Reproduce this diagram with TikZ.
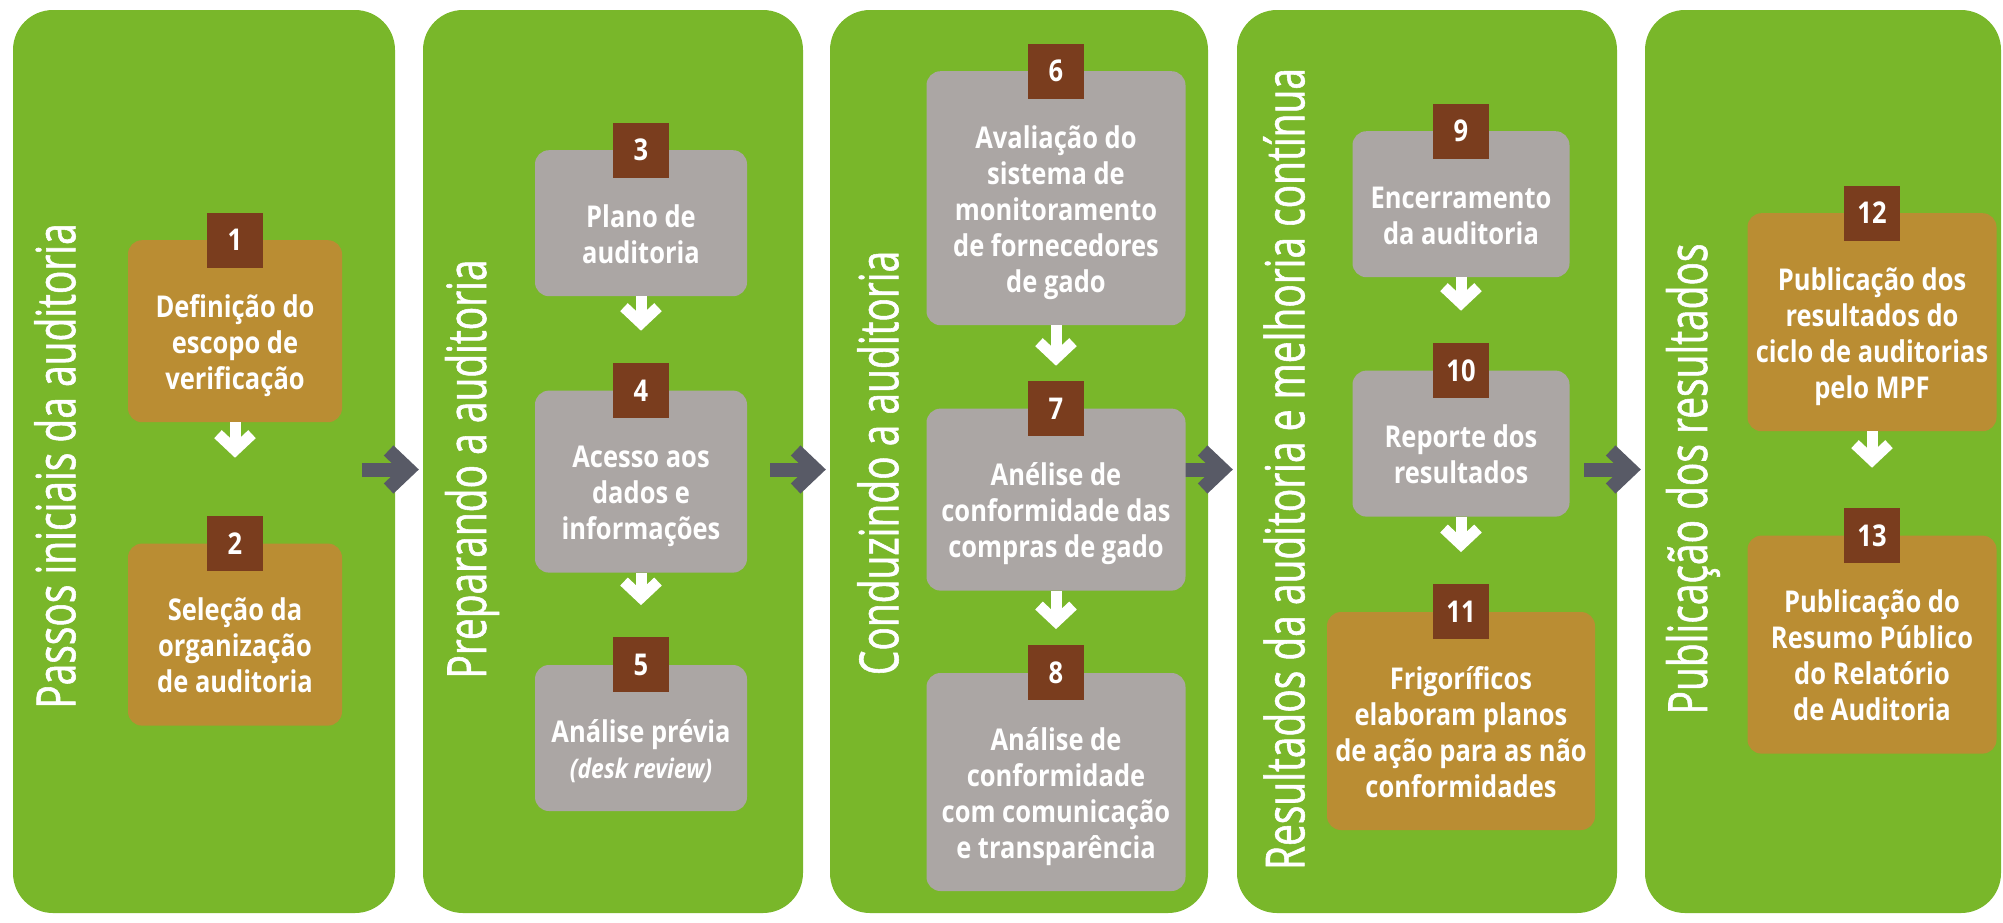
\documentclass[tikz,border=0pt]{standalone}
\usepackage{fontspec}
\setmainfont{Open Sans}[FakeStretch=0.85]
\newfontfamily\titlefont{Open Sans}[FakeStretch=0.72, FakeBold=1]
\usepackage{tikz}
\usetikzlibrary{positioning, arrows.meta}
\definecolor{panelgreen}{RGB}{121,183,42}
\definecolor{stepgold}{RGB}{186,141,51}
\definecolor{stepgray}{RGB}{171,166,164}
\definecolor{badgebrown}{RGB}{122,61,30}
\definecolor{flowgray}{RGB}{88,90,102}
\newcommand{\Lines}[1]{\rule{0pt}{77pt}#1\rule[-33pt]{0pt}{33pt}}
\newcommand{\Desk}[1]{{\fontsize{27}{32}\selectfont\itshape #1}}
\tikzset{
    panel/.style={fill=panelgreen, rounded corners=40pt, minimum height=903pt, inner sep=0pt},
    phase/.style={rotate=90, text=white, inner sep=0pt, font=\titlefont\fontsize{54}{60}\selectfont},
    stepbox/.style={rounded corners=14pt, text=white, align=center, inner sep=0pt,
        font=\bfseries\fontsize{30}{36}\selectfont},
    gray step/.style={stepbox, fill=stepgray},
    gold step/.style={stepbox, fill=stepgold},
    badge/.style={fill=badgebrown, text=white, minimum width=56pt, minimum height=55pt,
        inner sep=0pt, font=\bfseries\fontsize{30}{36}\selectfont},
    downarrow/.style={draw=white, line width=11pt, shorten <=0pt, shorten >=32pt,
        -{Straight Barb[length=16pt, width=34pt, line width=11pt]}},
    phasearrow/.style={draw=flowgray, line width=14pt,
        -{Straight Barb[length=20pt, width=38pt, line width=14pt]}},
}

\begin{document}
\begin{tikzpicture}[x=1pt, y=-1pt]
    \useasboundingbox (0,0) rectangle (2003,922);

    % phases
    \node[panel, minimum width=382pt] (p1) at (204,461.5) {};
    \node[panel, minimum width=380pt] (p2) at (613,461.5) {};
    \node[panel, minimum width=378pt] (p3) at (1019,461.5) {};
    \node[panel, minimum width=380pt] (p4) at (1427,461.5) {};
    \node[panel, minimum width=356pt] (p5) at (1823,461.5) {};

    \node[phase] (t1) at (55,466) {Passos iniciais da auditoria};
    \node[phase] (t2) at (472,469) {Preparando a auditoria};
    \node[phase] (t3) at (878,463) {Conduzindo a auditoria};
    \node[phase] (t4) at (1284,469) {Resultados da auditoria e melhoria contínua};
    \node[phase] (t5) at (1693,479) {Publicação dos resultados};

    \draw[phasearrow] ([xshift=-33pt,yshift=-8pt]p1.east) -- ([xshift=-4pt,yshift=-8pt]p2.west);
    \draw[phasearrow] ([xshift=-33pt,yshift=-8pt]p2.east) -- ([xshift=-4pt,yshift=-8pt]p3.west);
    \draw[phasearrow] ([xshift=-33pt,yshift=-8pt]p3.east) -- ([xshift=-4pt,yshift=-8pt]p4.west);
    \draw[phasearrow] ([xshift=-33pt,yshift=-8pt]p4.east) -- ([xshift=-4pt,yshift=-8pt]p5.west);

    % steps
    \node[gold step, minimum width=214pt, anchor=north] (b1) at (235,240)
        {\Lines{Definição do\\escopo de\\verificação}};
    \node[gold step, minimum width=214pt, below=121pt of b1] (b2)
        {\Lines{Seleção da\\organização\\de auditoria}};

    \node[gray step, minimum width=212pt, anchor=north] (b3) at (641,150)
        {\Lines{Plano de\\auditoria}};
    \node[gray step, minimum width=212pt, below=94pt of b3] (b4)
        {\Lines{Acesso aos\\dados e\\informações}};
    \node[gray step, minimum width=212pt, below=92pt of b4] (b5)
        {\Lines{Análise prévia\\\Desk{(desk review)}}};

    \node[gray step, minimum width=259pt, anchor=north] (b6) at (1056,71)
        {\Lines{Avaliação do\\sistema de\\monitoramento\\de fornecedores\\de gado}};
    \node[gray step, minimum width=259pt, below=83pt of b6] (b7)
        {\Lines{Anélise de\\conformidade das\\compras de gado}};
    \node[gray step, minimum width=259pt, below=82pt of b7] (b8)
        {\Lines{Análise de\\conformidade\\com comunicação\\e transparência}};

    \node[gray step, minimum width=217pt, anchor=north] (b9) at (1461,131)
        {\Lines{Encerramento\\da auditoria}};
    \node[gray step, minimum width=217pt, below=93pt of b9] (b10)
        {\Lines{Reporte dos\\resultados}};
    \node[gold step, minimum width=268pt, below=95pt of b10] (b11)
        {\Lines{Frigoríficos\\elaboram planos\\de ação para as não\\conformidades}};

    \node[gold step, minimum width=249pt, anchor=north] (b12) at (1872,213)
        {\Lines{Publicação dos\\resultados do\\ciclo de auditorias\\pelo MPF}};
    \node[gold step, minimum width=249pt, below=104pt of b12] (b13)
        {\Lines{Publicação do\\Resumo Público\\do Relatório\\de Auditoria}};

    % numbers
    \foreach \i in {1,...,13}
        \node[badge] (n\i) at (b\i.north) {\i};

    \draw[downarrow, shorten >=58pt] (b1) -- (n2);
    \draw[downarrow] (b3) -- (n4);
    \draw[downarrow] (b4) -- (n5);
    \draw[downarrow, shorten >=15pt] (b6) -- (n7);
    \draw[downarrow, shorten >=16pt] (b7) -- (n8);
    \draw[downarrow] (b9) -- (n10);
    \draw[downarrow] (b10) -- (n11);
    \draw[downarrow, shorten >=40pt] (b12) -- (n13);
\end{tikzpicture}
\end{document}
